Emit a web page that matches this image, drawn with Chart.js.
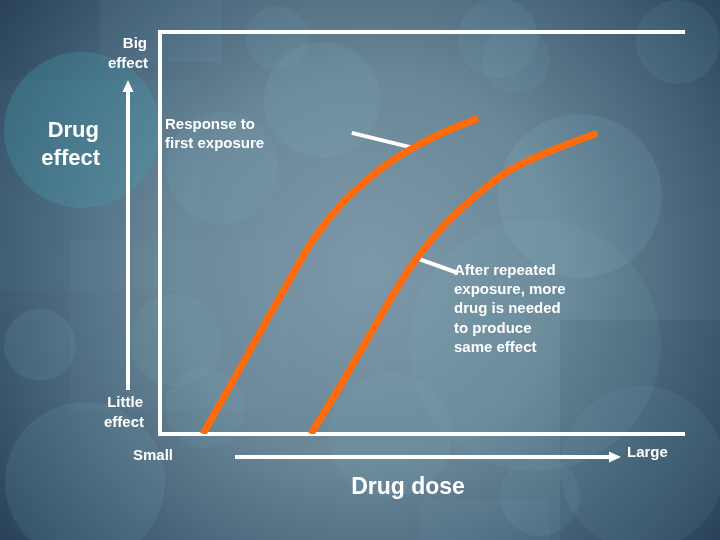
<!DOCTYPE html>
<html>
<head>
<meta charset="utf-8">
<script src="https://cdn.jsdelivr.net/npm/chart.js@4/dist/chart.umd.min.js"></script>
<style>
html,body{margin:0;padding:0;background:#3a566a;}
#wrap{width:720px;height:540px;position:relative;}
</style>
</head>
<body>
<div id="wrap"><canvas id="c" width="720" height="540"></canvas></div>
<script>
// ---- Data (axes: dose 0-100 left->right, effect 0-100 bottom->top) ----
const firstDoseX = [8.2, 13.4, 19.1, 24.8, 28.6, 31.5, 34.4, 38.2, 42.9, 48.3, 54.4, 60.7];
const firstEffectY = [0, 11.9, 25.3, 38.5, 47.0, 52.3, 56.8, 61.6, 66.6, 71.1, 75.1, 78.4];
const repeatDoseX = [28.8, 34.4, 40.1, 44.8, 48.1, 51.0, 53.8, 57.3, 61.1, 66.2, 72.5, 78.8, 83.4];
const repeatEffectY = [0, 11.9, 24.7, 35.3, 42.0, 47.0, 51.2, 55.8, 60.1, 65.1, 69.2, 72.5, 74.7];
const leader1X = [36.6, 48.3];
const leader1Y = [74.8, 71.1];
const leader2X = [49.6, 56.9];
const leader2Y = [43.4, 40.0];

const yTopLabel = ['Big', 'effect'];
const yBottomLabel = ['Little', 'effect'];
const yTitle = ['Drug', 'effect'];
const xLeftLabel = 'Small';
const xRightLabel = 'Large';
const xTitle = 'Drug dose';
const note1 = ['Response to', 'first exposure'];
const note2 = ['After repeated', 'exposure, more', 'drug is needed', 'to produce', 'same effect'];

const toPts = (xs, ys) => xs.map((x, i) => ({x: x, y: ys[i]}));

const ORANGE = '#ff6a0a';
const FONT = '"Liberation Sans", Arial, sans-serif';

const bgPlugin = {
  id: 'bg',
  beforeDraw(chart) {
    const ctx = chart.ctx;
    const W = chart.width, H = chart.height;
    ctx.save();
    const g = ctx.createRadialGradient(370, 270, 20, 370, 270, 520);
    g.addColorStop(0, '#7b97a7');
    g.addColorStop(0.35, '#6a8798');
    g.addColorStop(0.7, '#3d5a70');
    g.addColorStop(1, '#1a3047');
    ctx.fillStyle = g;
    ctx.fillRect(0, 0, W, H);
    const rects = [
      [100, 0, 122, 62, 'rgba(140,180,200,0.08)'],
      [0, 80, 200, 210, 'rgba(120,170,190,0.06)'],
      [70, 240, 220, 170, 'rgba(140,180,200,0.05)'],
      [560, 320, 160, 220, 'rgba(20,40,60,0.10)'],
      [420, 500, 130, 40, 'rgba(140,180,200,0.06)']
    ];
    rects.forEach(r => { ctx.fillStyle = r[4]; ctx.fillRect(r[0], r[1], r[2], r[3]); });
    const circles = [
      [82, 130, 78, 'rgba(70,160,175,0.30)'],
      [277, 38, 32, 'rgba(130,190,200,0.10)'],
      [322, 100, 58, 'rgba(130,190,200,0.12)'],
      [222, 168, 56, 'rgba(120,185,195,0.12)'],
      [498, 38, 40, 'rgba(130,190,200,0.10)'],
      [516, 60, 34, 'rgba(130,190,200,0.08)'],
      [678, 42, 42, 'rgba(130,190,200,0.10)'],
      [580, 196, 82, 'rgba(150,200,210,0.12)'],
      [535, 345, 126, 'rgba(130,190,200,0.10)'],
      [40, 345, 36, 'rgba(130,190,200,0.12)'],
      [175, 340, 46, 'rgba(130,190,200,0.10)'],
      [205, 408, 40, 'rgba(130,190,200,0.10)'],
      [85, 482, 80, 'rgba(130,190,200,0.12)'],
      [390, 435, 62, 'rgba(130,190,200,0.10)'],
      [642, 468, 82, 'rgba(130,190,200,0.09)'],
      [540, 496, 40, 'rgba(130,190,200,0.10)']
    ];
    circles.forEach(c => {
      ctx.beginPath(); ctx.arc(c[0], c[1], c[2], 0, Math.PI * 2);
      ctx.fillStyle = c[3]; ctx.fill();
    });
    ctx.restore();
  }
};

const textPlugin = {
  id: 'texts',
  afterDraw(chart) {
    const ctx = chart.ctx;
    ctx.save();
    ctx.fillStyle = '#ffffff';
    ctx.strokeStyle = '#ffffff';
    ctx.textBaseline = 'alphabetic';
    const small = 'bold 15px ' + FONT;
    // Y axis arrow
    ctx.lineWidth = 4;
    ctx.beginPath(); ctx.moveTo(128, 390); ctx.lineTo(128, 90); ctx.stroke();
    ctx.beginPath(); ctx.moveTo(128, 80); ctx.lineTo(122.5, 92); ctx.lineTo(133.5, 92); ctx.closePath(); ctx.fill();
    // X axis arrow
    ctx.beginPath(); ctx.moveTo(235, 457); ctx.lineTo(610, 457); ctx.stroke();
    ctx.beginPath(); ctx.moveTo(621, 457); ctx.lineTo(609, 451.5); ctx.lineTo(609, 462.5); ctx.closePath(); ctx.fill();

    ctx.font = small;
    ctx.textAlign = 'right';
    ctx.fillText(yTopLabel[0], 147, 48);
    ctx.fillText(yTopLabel[1], 148, 68);
    ctx.fillText(yBottomLabel[0], 143, 407);
    ctx.fillText(yBottomLabel[1], 144, 427);
    ctx.textAlign = 'left';
    ctx.fillText(xLeftLabel, 133, 460);
    ctx.fillText(xRightLabel, 627, 457);
    ctx.fillText(note1[0], 165, 129);
    ctx.fillText(note1[1], 165, 148);
    const nb = [275, 294, 313, 333, 352];
    note2.forEach((t, i) => ctx.fillText(t, 454, nb[i]));

    ctx.font = 'bold 22px ' + FONT;
    ctx.textAlign = 'right';
    ctx.fillText(yTitle[0], 99, 137);
    ctx.fillText(yTitle[1], 100, 165);
    ctx.font = 'bold 23px ' + FONT;
    ctx.textAlign = 'center';
    ctx.fillText(xTitle, 408, 494);
    ctx.restore();
  }
};

const axisCommon = {
  min: 0, max: 100,
  grid: {display: false, drawTicks: false},
  ticks: {display: false},
  border: {display: true, color: '#ffffff', width: 4},
  z: 1
};

new Chart(document.getElementById('c'), {
  type: 'scatter',
  data: {
    datasets: [
      {data: toPts(firstDoseX, firstEffectY), showLine: true, borderColor: ORANGE, borderWidth: 7,
       pointRadius: 0, cubicInterpolationMode: 'monotone', clip: 0, borderCapStyle: 'butt'},
      {data: toPts(repeatDoseX, repeatEffectY), showLine: true, borderColor: ORANGE, borderWidth: 7,
       pointRadius: 0, cubicInterpolationMode: 'monotone', clip: 0, borderCapStyle: 'butt'},
      {data: toPts(leader1X, leader1Y), showLine: true, borderColor: '#ffffff', borderWidth: 4,
       pointRadius: 0, tension: 0},
      {data: toPts(leader2X, leader2Y), showLine: true, borderColor: '#ffffff', borderWidth: 4,
       pointRadius: 0, tension: 0}
    ]
  },
  options: {
    responsive: false,
    animation: false,
    events: [],
    layout: {padding: {left: 160, right: 36, top: 31.5, bottom: 106}},
    plugins: {legend: {display: false}, tooltip: {enabled: false}, title: {display: false}},
    scales: {
      x: Object.assign({type: 'linear', position: 'bottom'}, axisCommon),
      xTop: Object.assign({type: 'linear', position: 'top'}, axisCommon),
      y: Object.assign({type: 'linear', position: 'left'}, axisCommon)
    }
  },
  plugins: [bgPlugin, textPlugin]
});
</script>
</body>
</html>
